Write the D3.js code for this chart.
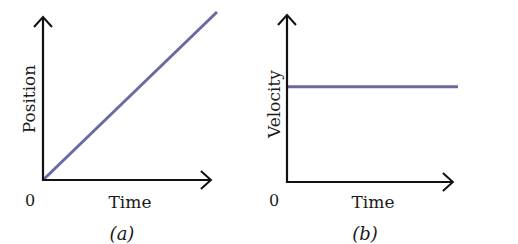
<!DOCTYPE html>
<html>
  <head>
    <meta charset="utf-8">
    <script src="https://d3js.org/d3.v7.min.js"></script>
    <style>
      body { margin: 0; background: #fff; }
      text { font-family: "DejaVu Serif", "Liberation Serif", serif; fill: #1a1a1a; }
    </style>
  </head>
  <body>
    <script>
        // data for the two panels (normalised units)
        var panelNames = ["(a)", "(b)"]
        var yLabels = ["Position", "Velocity"]
        var xLabel = "Time"
        var positionLine = [[0, 0], [1, 1]]
        var velocityLine = [[0, 0.57], [1, 0.57]]
        var lines = [positionLine, velocityLine]

        var width = 518, height = 244
        var svg = d3.select("body").append("svg")
            .attr("width", width)
            .attr("height", height)

        // layout per panel
        var panels = [
            {x0: 43, x1: 217, y0: 180, y1: 12, xEnd: 0.965, yEnd: 0.97, labX: 35, labY: 99, timeX: 130, capX: 122},
            {x0: 287, x1: 458, y0: 182, y1: 15, xEnd: 0.97, yEnd: 1.0, labX: 280, labY: 104, timeX: 373, capX: 365}
        ]

        function arrowHead(g, tx, ty, dir) {
            // open chevron arrow
            var L = 10, H = 9
            var p
            if (dir == "right") p = [[tx - L, ty - H], [tx, ty], [tx - L, ty + H]]
            else p = [[tx - H, ty + L], [tx, ty], [tx + H, ty + L]]
            g.append("path")
                .attr("d", d3.line()(p))
                .attr("fill", "none")
                .attr("stroke", "#111")
                .attr("stroke-width", 2)
                .attr("stroke-linejoin", "miter")
        }

        panels.forEach(function(p, i) {
            var x = d3.scaleLinear().domain([0, 1]).range([p.x0, p.x1])
            var y = d3.scaleLinear().domain([0, 1]).range([p.y0, p.y1])
            var g = svg.append("g")

            // data line
            g.append("path")
                .datum(lines[i])
                .attr("d", d3.line().x(function(d) { return x(d[0]) }).y(function(d) { return y(d[1]) }))
                .attr("fill", "none")
                .attr("stroke", "#6a6aa0")
                .attr("stroke-width", 3)

            // axes
            g.append("path")
                .attr("d", d3.line()([[x(0), y(p.yEnd)], [x(0), y(0)], [x(p.xEnd), y(0)]]))
                .attr("fill", "none")
                .attr("stroke", "#111")
                .attr("stroke-width", 2.2)
            arrowHead(g, x(p.xEnd), y(0), "right")
            arrowHead(g, x(0), y(p.yEnd), "up")

            g.append("text")
                .text("0")
                .attr("x", x(0) - 13)
                .attr("y", 206)
                .attr("text-anchor", "middle")
                .attr("font-size", 16)
            g.append("text")
                .text(xLabel)
                .attr("x", p.timeX)
                .attr("y", 208)
                .attr("text-anchor", "middle")
                .attr("font-size", 17)
            g.append("text")
                .text(yLabels[i])
                .attr("transform", "translate(" + p.labX + "," + p.labY + ") rotate(-90)")
                .attr("text-anchor", "middle")
                .attr("font-size", 17)
            g.append("text")
                .text(panelNames[i])
                .attr("x", p.capX)
                .attr("y", 240)
                .attr("text-anchor", "middle")
                .attr("font-size", 18)
                .attr("font-style", "italic")
        })
    </script>
  </body>
</html>
